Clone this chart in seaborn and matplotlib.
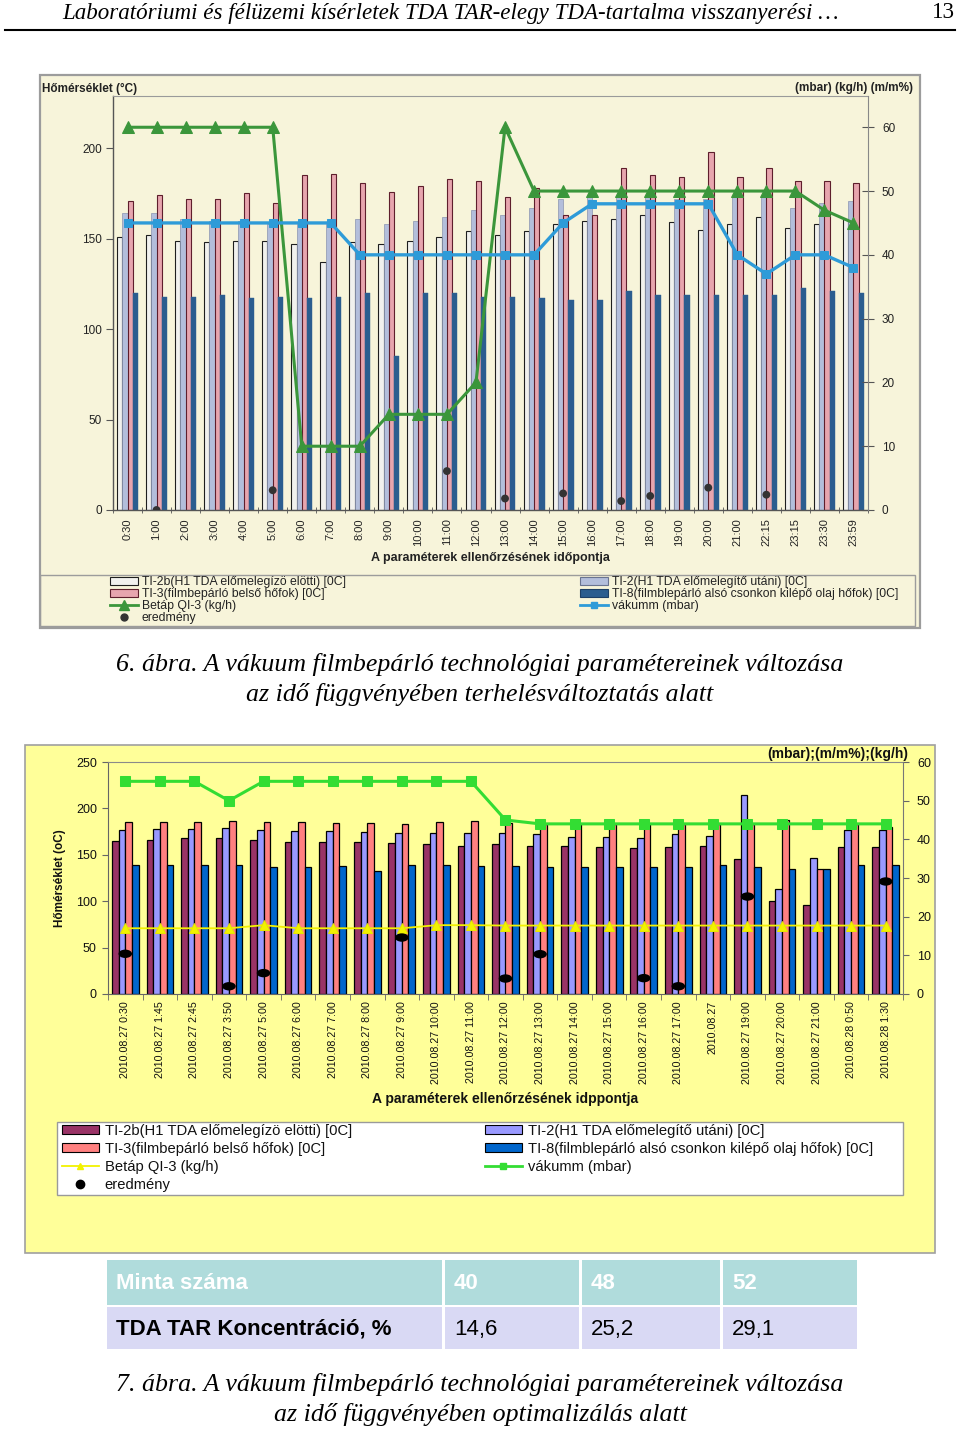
import numpy as np
import pandas as pd
import matplotlib
matplotlib.use("Agg")
import matplotlib.pyplot as plt
import seaborn as sns
from matplotlib.patches import Rectangle, Patch
from matplotlib.lines import Line2D
from matplotlib.path import Path
from matplotlib.transforms import Affine2D

# ---------------- data: 6. ábra ----------------
times1 = ["0:30", "1:00", "2:00", "3:00", "4:00", "5:00", "6:00", "7:00", "8:00", "9:00",
          "10:00", "11:00", "12:00", "13:00", "14:00", "15:00", "16:00", "17:00", "18:00",
          "19:00", "20:00", "21:00", "22:15", "23:15", "23:30", "23:59"]
ti2b_1 = [151, 152, 149, 148, 149, 149, 147, 137, 148, 147, 149, 151, 154, 152, 154, 158,
          160, 161, 163, 159, 155, 158, 162, 156, 158, 161]
ti2_1 = [164, 164, 161, 160, 160, 158, 158, 158, 161, 158, 160, 162, 166, 163, 167, 172,
         173, 173, 173, 172, 172, 173, 173, 167, 170, 171]
ti3_1 = [171, 174, 172, 172, 175, 170, 185, 186, 181, 176, 179, 183, 182, 173, 178, 163,
         163, 189, 185, 184, 198, 184, 189, 182, 182, 181]
ti8_1 = [120, 118, 118, 119, 117, 118, 117, 118, 120, 85, 120, 120, 118, 118, 117, 116,
         116, 121, 119, 119, 119, 119, 119, 123, 121, 120]
betap_1 = [60, 60, 60, 60, 60, 60, 10, 10, 10, 15, 15, 15, 20, 60, 50, 50, 50, 50, 50, 50,
           50, 50, 50, 50, 47, 45]
vakuum_1 = [45, 45, 45, 45, 45, 45, 45, 45, 40, 40, 40, 40, 40, 40, 40, 45, 48, 48, 48, 48,
            48, 40, 37, 40, 40, 38]
ered_t1 = ["1:00", "5:00", "11:00", "13:00", "15:00", "17:00", "18:00", "20:00", "22:15"]
ered_v1 = [0.0, 3.1, 6.1, 1.8, 2.6, 1.4, 2.2, 3.5, 2.4]

# ---------------- data: 7. ábra ----------------
times2 = ["2010.08.27 0:30", "2010.08.27 1:45", "2010.08.27 2:45", "2010.08.27 3:50",
          "2010.08.27 5:00", "2010.08.27 6:00", "2010.08.27 7:00", "2010.08.27 8:00",
          "2010.08.27 9:00", "2010.08.27 10:00", "2010.08.27 11:00", "2010.08.27 12:00",
          "2010.08.27 13:00", "2010.08.27 14:00", "2010.08.27 15:00", "2010.08.27 16:00",
          "2010.08.27 17:00", "2010.08.27", "2010.08.27 19:00", "2010.08.27 20:00",
          "2010.08.27 21:00", "2010.08.28 0:50", "2010.08.28 1:30"]
ti2b_2 = [165, 166, 168, 168, 166, 164, 164, 164, 163, 162, 160, 162, 160, 159, 158, 157,
          158, 159, 145, 100, 96, 158, 158]
ti2_2 = [177, 178, 178, 179, 177, 176, 176, 175, 174, 173, 173, 173, 172, 169, 169, 168,
         172, 170, 214, 113, 147, 177, 177]
ti3_2 = [185, 185, 185, 186, 185, 185, 184, 184, 183, 185, 186, 184, 183, 183, 183, 183,
         183, 183, 183, 188, 135, 183, 180]
ti8_2 = [139, 139, 139, 139, 137, 137, 138, 133, 139, 139, 138, 138, 137, 137, 137, 137,
         137, 139, 137, 135, 135, 139, 139]
betap_2 = [17.0, 17.0, 17.0, 17.0, 17.8, 17.0, 17.0, 17.0, 17.0, 17.8, 17.8, 17.7, 17.7,
           17.7, 17.7, 17.7, 17.7, 17.7, 17.7, 17.7, 17.7, 17.7, 17.7]
vakuum_2 = [55, 55, 55, 50, 55, 55, 55, 55, 55, 55, 55, 45, 44, 44, 44, 44, 44, 44, 44, 44,
            44, 44, 44]
ered_t2 = ["2010.08.27 0:30", "2010.08.27 3:50", "2010.08.27 5:00", "2010.08.27 9:00",
           "2010.08.27 12:00", "2010.08.27 13:00", "2010.08.27 16:00", "2010.08.27 17:00",
           "2010.08.27 19:00", "2010.08.28 1:30"]
ered_v2 = [10.4, 2.0, 5.4, 14.6, 4.0, 10.3, 4.1, 2.0, 25.2, 29.1]

# ---------------- data: table ----------------
table_head = ["Minta száma", "40", "48", "52"]
table_row = ["TDA TAR Koncentráció, %", "14,6", "25,2", "29,1"]

series_names = ["TI-2b", "TI-2", "TI-3", "TI-8"]
leg_bar_labels = ["TI-2b(H1 TDA előmelegízö elötti) [0C]",
                  "TI-2(H1 TDA előmelegítő utáni) [0C]",
                  "TI-3(filmbepárló belső hőfok) [0C]",
                  "TI-8(filmblepárló alsó csonkon kilépő olaj hőfok) [0C]"]

plt.rcParams["font.family"] = ["Liberation Sans", "DejaVu Sans"]
SERIF = ["Liberation Serif", "DejaVu Serif"]

W, H = 960, 1430
fig = plt.figure(figsize=(9.6, 14.3), dpi=100)
fig.patch.set_facecolor("white")


def fx(x):
    return x / W


def fy(y):
    return 1 - y / H


bg = fig.add_axes([0, 0, 1, 1])
bg.set_zorder(-10)
bg.set_xlim(0, W)
bg.set_ylim(H, 0)
bg.axis("off")

# page header
bg.text(62, 13, "Laboratóriumi és félüzemi kísérletek TDA TAR-elegy TDA-tartalma visszanyerési …",
        family=SERIF, style="italic", fontsize=16.6, ha="left", va="center")
bg.text(955, 13, "13", family=SERIF, fontsize=16.6, ha="right", va="center")
bg.plot([5, 955], [30, 30], color="black", lw=1.5)

# ============ chart 1 ============
CREAM = "#f7f4da"
bg.add_patch(Rectangle((40, 75), 880, 553, facecolor=CREAM, edgecolor="#9c9c9c", lw=1.6))
bg.add_patch(Rectangle((40, 575), 875, 51, fill=False, edgecolor="#9c9c9c", lw=1.0))
bg.text(42, 89, "Hőmérséklet (°C)", fontsize=8.5, fontweight="bold", ha="left", va="center", color="#222")
bg.text(913, 88, "(mbar) (kg/h) (m/m%)", fontsize=8.5, fontweight="bold", ha="right", va="center", color="#222")
bg.text(490, 558, "A paraméterek ellenőrzésének időpontja", fontsize=9, fontweight="bold",
        ha="center", va="center", color="#222")

pal1 = ["#f1f1ee", "#b3bedb", "#e7a5ae", "#2b5d8f"]
edge1 = ["#1e1e1e", "#8a94b0", "#5e1e2c", "#2b5d8f"]
lw1 = [0.8, 0.5, 0.8, 0.3]
green1 = "#3b963b"
blue1 = "#2e9bd8"

ax1 = fig.add_axes([fx(113), fy(510), (868 - 113) / W, (510 - 96) / H])
ax1.set_facecolor("none")
df1 = pd.DataFrame({"time": times1, "TI-2b": ti2b_1, "TI-2": ti2_1, "TI-3": ti3_1, "TI-8": ti8_1})
long1 = df1.melt(id_vars="time", var_name="series", value_name="value")
sns.barplot(data=long1, x="time", y="value", hue="series", order=times1, hue_order=series_names,
            palette=pal1, saturation=1, width=0.72, errorbar=None, legend=False, ax=ax1)
for cont, ec, lw in zip(ax1.containers, edge1, lw1):
    for p in cont:
        p.set_edgecolor(ec)
        p.set_linewidth(lw)
n1 = len(times1)
ax1.set_xlim(-0.5, n1 - 0.5)
ax1.set_ylim(0, 228.9)
ax1.set_yticks([0, 50, 100, 150, 200])
ax1.set_xticks(range(n1))
ax1.set_xticklabels(times1, rotation=90, fontsize=8, color="#222")
ax1.set_xticks(np.arange(n1 + 1) - 0.5, minor=True)
ax1.tick_params(axis="x", which="major", length=0, pad=6)
ax1.tick_params(axis="x", which="minor", length=5, direction="inout", color="#555")
ax1.tick_params(axis="y", labelsize=8.5, labelcolor="#222", length=5, color="#555", pad=3)
ax1.set_xlabel("")
ax1.set_ylabel("")
for s in ["left", "bottom"]:
    ax1.spines[s].set_color("#555")
    ax1.spines[s].set_linewidth(1.0)
ax1.spines["top"].set_color("#9a9a9a")
ax1.spines["top"].set_linewidth(0.8)
ax1.spines["right"].set_visible(False)

ax1b = ax1.twinx()
pos1 = np.arange(n1)
sns.lineplot(x=pos1, y=betap_1, ax=ax1b, color=green1, linewidth=2.2, marker="^",
             markersize=9, markeredgecolor=green1)
sns.lineplot(x=pos1, y=vakuum_1, ax=ax1b, color=blue1, linewidth=2.4, marker="s",
             markersize=6, markeredgecolor=blue1)
sns.scatterplot(x=[times1.index(t) for t in ered_t1], y=ered_v1, ax=ax1b, color="#333333",
                s=32, edgecolor="none", zorder=6)
ax1b.set_ylim(0, 64.9)
ax1b.set_yticks([0, 10, 20, 30, 40, 50, 60])
ax1b.tick_params(axis="y", labelsize=8.5, labelcolor="#222", length=8, direction="inout",
                 color="#555", pad=6)
ax1b.set_ylabel("")
ax1b.spines["right"].set_color("#888")
for s in ["top", "left", "bottom"]:
    ax1b.spines[s].set_visible(False)
ax1b.set_xlim(-0.5, n1 - 0.5)

h_c1_left = [Patch(facecolor=pal1[0], edgecolor=edge1[0], lw=0.8),
             Patch(facecolor=pal1[2], edgecolor=edge1[2], lw=0.8),
             Line2D([], [], color=green1, lw=2, marker="^", markersize=7),
             Line2D([], [], color="#333333", lw=0, marker="o", markersize=5)]
l_c1_left = [leg_bar_labels[0], leg_bar_labels[2], "Betáp QI-3 (kg/h)", "eredmény"]
h_c1_right = [Patch(facecolor=pal1[1], edgecolor="#6a7490", lw=0.8),
              Patch(facecolor=pal1[3], edgecolor="#1d3f66", lw=0.8),
              Line2D([], [], color=blue1, lw=2, marker="s", markersize=5)]
l_c1_right = [leg_bar_labels[1], leg_bar_labels[3], "vákumm (mbar)"]
common1 = dict(loc="upper left", frameon=False, borderpad=0, borderaxespad=0, fontsize=8.8,
               handlelength=2.3, handleheight=0.6, handletextpad=0.3, labelspacing=0.0,
               labelcolor="#222")
fig.legend(h_c1_left, l_c1_left, bbox_to_anchor=(fx(110), fy(576)), **common1)
fig.legend(h_c1_right, l_c1_right, bbox_to_anchor=(fx(580), fy(576)), **common1)

# captions
bg.text(480, 665, "6. ábra. A vákuum filmbepárló technológiai paramétereinek változása",
        family=SERIF, style="italic", fontsize=18.6, ha="center", va="center")
bg.text(480, 695, "az idő függvényében terhelésváltoztatás alatt",
        family=SERIF, style="italic", fontsize=18.6, ha="center", va="center")

# ============ chart 2 ============
YEL = "#ffff99"
bg.add_patch(Rectangle((25, 745), 910, 508, facecolor=YEL, edgecolor="#a0a0a0", lw=1.2))
bg.add_patch(Rectangle((57, 1122), 846, 73, facecolor="white", edgecolor="#9a9a9a", lw=1.0))
bg.text(60, 878, "Hőmérséklet (oC)", rotation=90, fontsize=8.5, fontweight="bold",
        ha="center", va="center", color="#111")
bg.text(908, 754, "(mbar);(m/m%);(kg/h)", fontsize=10, fontweight="bold", ha="right",
        va="center", color="#111")
bg.text(505, 1099, "A paraméterek ellenőrzésének idppontja", fontsize=10, fontweight="bold",
        ha="center", va="center", color="#111")

pal2 = ["#993366", "#9999ff", "#ff8080", "#0066cc"]
green2 = "#33dd33"
yellow2 = "#f2f200"

ax2 = fig.add_axes([fx(108), fy(994), (903 - 108) / W, (994 - 762) / H])
ax2.set_facecolor("none")
df2 = pd.DataFrame({"time": times2, "TI-2b": ti2b_2, "TI-2": ti2_2, "TI-3": ti3_2, "TI-8": ti8_2})
long2 = df2.melt(id_vars="time", var_name="series", value_name="value")
sns.barplot(data=long2, x="time", y="value", hue="series", order=times2, hue_order=series_names,
            palette=pal2, saturation=1, width=0.77, errorbar=None, legend=False,
            edgecolor="black", linewidth=0.9, ax=ax2)
n2 = len(times2)
ax2.set_xlim(-0.5, n2 - 0.5)
ax2.set_ylim(0, 250)
ax2.set_yticks([0, 50, 100, 150, 200, 250])
ax2.set_xticks(range(n2))
ax2.set_xticklabels(times2, rotation=90, fontsize=7.7, color="#111")
ax2.set_xticks(np.arange(n2 + 1) - 0.5, minor=True)
ax2.tick_params(axis="x", which="major", length=0, pad=5)
ax2.tick_params(axis="x", which="minor", length=4, direction="out", color="#666")
ax2.tick_params(axis="y", labelsize=9, labelcolor="#111", length=4, color="#666", pad=4)
ax2.set_xlabel("")
ax2.set_ylabel("")
for s in ["left", "bottom"]:
    ax2.spines[s].set_color("#666")
ax2.spines["top"].set_color("#8a8a8a")
ax2.spines["top"].set_linewidth(0.8)
ax2.spines["right"].set_visible(False)

ax2b = ax2.twinx()
pos2 = np.arange(n2)
sns.lineplot(x=pos2, y=vakuum_2, ax=ax2b, color=green2, linewidth=2.2, marker="s",
             markersize=7, markeredgecolor=green2)
sns.lineplot(x=pos2, y=betap_2, ax=ax2b, color=yellow2, linewidth=1.3, marker="^",
             markersize=7, markeredgecolor="#e6e600")
ell = Path.unit_circle().transformed(Affine2D().scale(1.0, 0.62))
sns.scatterplot(x=[times2.index(t) for t in ered_t2], y=ered_v2, ax=ax2b, color="black",
                marker=ell, s=95, edgecolor="none", zorder=6)
ax2b.set_ylim(0, 60)
ax2b.set_yticks([0, 10, 20, 30, 40, 50, 60])
ax2b.tick_params(axis="y", labelsize=9, labelcolor="#111", length=4, color="#666", pad=6)
ax2b.set_ylabel("")
ax2b.spines["right"].set_color("#777")
for s in ["top", "left", "bottom"]:
    ax2b.spines[s].set_visible(False)
ax2b.set_xlim(-0.5, n2 - 0.5)

h_c2_left = [Patch(facecolor=pal2[0], edgecolor="black", lw=0.8),
             Patch(facecolor=pal2[2], edgecolor="black", lw=0.8),
             Line2D([], [], color=yellow2, lw=1.3, marker="^", markersize=5),
             Line2D([], [], color="black", lw=0, marker="o", markersize=6)]
l_c2_left = [leg_bar_labels[0], leg_bar_labels[2], "Betáp QI-3 (kg/h)", "eredmény"]
h_c2_right = [Patch(facecolor=pal2[1], edgecolor="black", lw=0.8),
              Patch(facecolor=pal2[3], edgecolor="black", lw=0.8),
              Line2D([], [], color=green2, lw=2, marker="s", markersize=5)]
l_c2_right = [leg_bar_labels[1], leg_bar_labels[3], "vákumm (mbar)"]
common2 = dict(loc="upper left", frameon=False, borderpad=0, borderaxespad=0, fontsize=10.6,
               handlelength=2.5, handleheight=0.55, handletextpad=0.4, labelspacing=0.27,
               labelcolor="#111")
fig.legend(h_c2_left, l_c2_left, bbox_to_anchor=(fx(62), fy(1124)), **common2)
fig.legend(h_c2_right, l_c2_right, bbox_to_anchor=(fx(485), fy(1124)), **common2)

# ============ table ============
col_edges = [105, 443, 580, 721, 858]
rows = [(1260, 1305, "#b0dcdc", table_head, "white"),
        (1307, 1349, "#d9d9f4", table_row, "black")]
for r_i, (y0, y1, fc, texts, tc) in enumerate(rows):
    for c in range(4):
        x0, x1 = col_edges[c], col_edges[c + 1]
        bg.add_patch(Rectangle((x0 + 1.5, y0), (x1 - x0) - 3, y1 - y0, facecolor=fc,
                               edgecolor="none"))
        weight = "bold" if (r_i == 0 or c == 0) else "normal"
        bg.text(x0 + 11, (y0 + y1) / 2 + 1, texts[c], fontsize=16, fontweight=weight,
                color=tc, ha="left", va="center")

bg.text(480, 1385, "7. ábra. A vákuum filmbepárló technológiai paramétereinek változása",
        family=SERIF, style="italic", fontsize=18.6, ha="center", va="center")
bg.text(480, 1414, "az idő függvényében optimalizálás alatt",
        family=SERIF, style="italic", fontsize=18.6, ha="center", va="center")

fig.savefig("out.png", dpi=100)
